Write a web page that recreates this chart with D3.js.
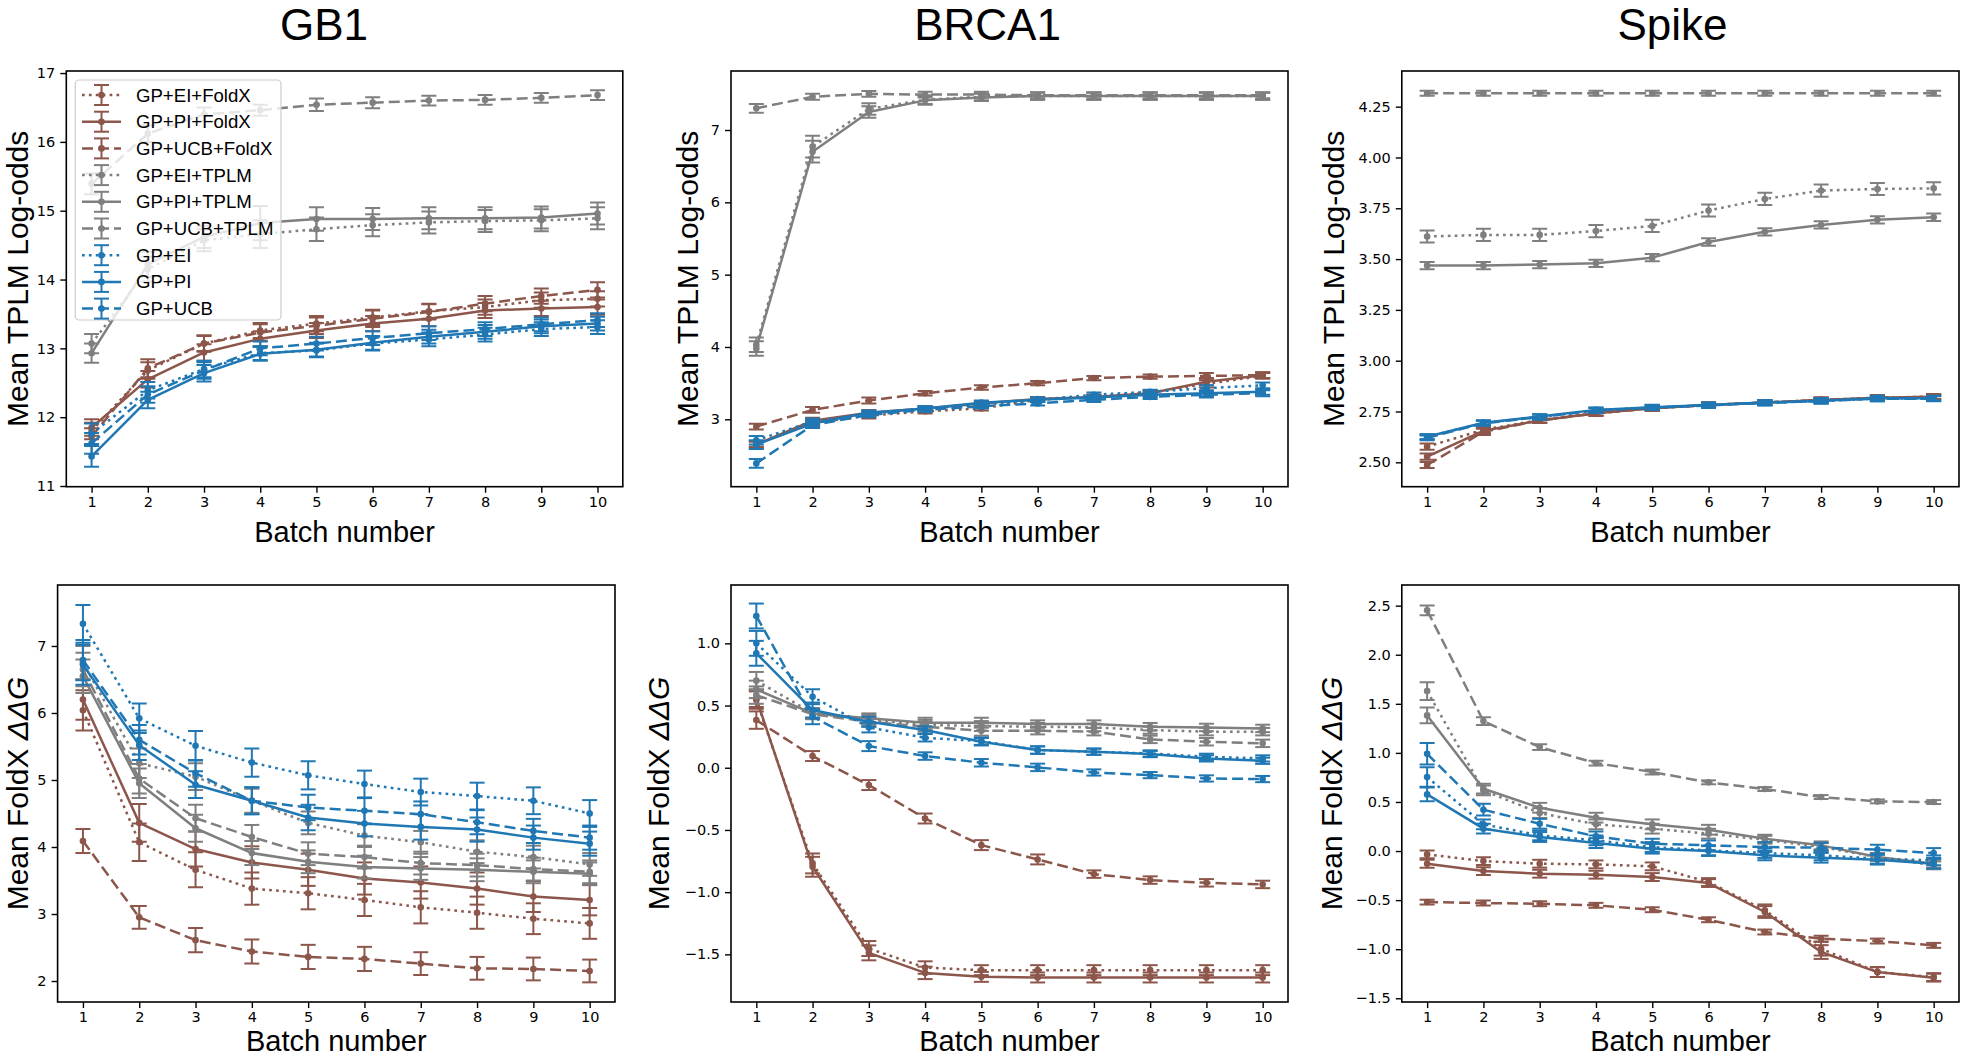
<!DOCTYPE html>
<html><head><meta charset="utf-8">
<script src="https://cdn.jsdelivr.net/npm/d3@7"></script>
<style>body{margin:0;background:#fff}svg{display:block}</style>
</head><body><svg id="c" width="1961" height="1057"></svg>
<script>
// ---------------- DATA ----------------
const batches = [1, 2, 3, 4, 5, 6, 7, 8, 9, 10];
const seriesNames = ["GP+EI+FoldX", "GP+PI+FoldX", "GP+UCB+FoldX", "GP+EI+TPLM", "GP+PI+TPLM", "GP+UCB+TPLM", "GP+EI", "GP+PI", "GP+UCB"];
const seriesColors = ["#8c564b", "#8c564b", "#8c564b", "#7f7f7f", "#7f7f7f", "#7f7f7f", "#1f77b4", "#1f77b4", "#1f77b4"];
const seriesStyles = ["dotted", "solid", "dashed", "dotted", "solid", "dashed", "dotted", "solid", "dashed"];
const proteins = ["GB1", "BRCA1", "Spike"];
const yLabelTop = "Mean TPLM Log-odds";
const yLabelBottom = "Mean FoldX ";
const yLabelBottomMath = "ΔΔG";
const xLabel = "Batch number";

const ticksGb1Tplm = [11, 12, 13, 14, 15, 16, 17];
const ticksBrca1Tplm = [3, 4, 5, 6, 7];
const ticksSpikeTplm = [2.5, 2.75, 3.0, 3.25, 3.5, 3.75, 4.0, 4.25];
const ticksGb1Foldx = [2, 3, 4, 5, 6, 7];
const ticksBrca1Foldx = [-1.5, -1.0, -0.5, 0.0, 0.5, 1.0];
const ticksSpikeFoldx = [-1.5, -1.0, -0.5, 0.0, 0.5, 1.0, 1.5, 2.0, 2.5];

// GB1, TPLM log-odds (rows follow seriesNames)
const gb1TplmMean = [
  [11.80, 12.68, 13.07, 13.26, 13.36, 13.45, 13.54, 13.60, 13.70, 13.72],
  [11.85, 12.55, 12.94, 13.14, 13.26, 13.36, 13.43, 13.55, 13.58, 13.60],
  [11.72, 12.71, 13.07, 13.23, 13.33, 13.43, 13.53, 13.65, 13.76, 13.85],
  [13.07, 14.15, 14.57, 14.66, 14.73, 14.79, 14.83, 14.85, 14.86, 14.89],
  [12.93, 14.22, 14.62, 14.82, 14.88, 14.88, 14.89, 14.89, 14.90, 14.96],
  [15.39, 16.12, 16.40, 16.46, 16.54, 16.57, 16.60, 16.61, 16.64, 16.68],
  [11.76, 12.39, 12.70, 12.93, 12.97, 13.07, 13.13, 13.20, 13.28, 13.31],
  [11.43, 12.25, 12.64, 12.92, 12.98, 13.08, 13.17, 13.24, 13.32, 13.36],
  [11.62, 12.33, 12.68, 13.00, 13.07, 13.15, 13.22, 13.28, 13.35, 13.41]
];
const gb1TplmErr = [
  [0.12, 0.12, 0.11, 0.11, 0.11, 0.11, 0.11, 0.11, 0.11, 0.11],
  [0.12, 0.12, 0.12, 0.11, 0.11, 0.11, 0.11, 0.11, 0.11, 0.11],
  [0.12, 0.13, 0.12, 0.12, 0.12, 0.12, 0.11, 0.11, 0.11, 0.11],
  [0.14, 0.18, 0.16, 0.20, 0.17, 0.16, 0.16, 0.16, 0.16, 0.16],
  [0.14, 0.18, 0.16, 0.25, 0.17, 0.16, 0.16, 0.16, 0.16, 0.16],
  [0.15, 0.12, 0.10, 0.08, 0.09, 0.08, 0.07, 0.07, 0.07, 0.07],
  [0.15, 0.12, 0.12, 0.10, 0.10, 0.10, 0.10, 0.10, 0.10, 0.10],
  [0.15, 0.12, 0.12, 0.10, 0.10, 0.10, 0.10, 0.10, 0.10, 0.10],
  [0.15, 0.12, 0.12, 0.10, 0.10, 0.10, 0.10, 0.10, 0.10, 0.10]
];

// BRCA1, TPLM log-odds
const brca1TplmMean = [
  [2.66, 2.95, 3.05, 3.11, 3.15, 3.27, 3.31, 3.37, 3.49, 3.60],
  [2.65, 2.98, 3.09, 3.15, 3.22, 3.28, 3.31, 3.36, 3.52, 3.61],
  [2.90, 3.13, 3.26, 3.36, 3.44, 3.50, 3.57, 3.59, 3.60, 3.61],
  [4.03, 6.77, 7.29, 7.42, 7.46, 7.47, 7.47, 7.47, 7.47, 7.47],
  [3.98, 6.70, 7.25, 7.41, 7.45, 7.47, 7.47, 7.47, 7.47, 7.47],
  [7.30, 7.46, 7.50, 7.49, 7.49, 7.48, 7.48, 7.48, 7.48, 7.48],
  [2.71, 2.97, 3.08, 3.15, 3.20, 3.27, 3.34, 3.38, 3.43, 3.47],
  [2.65, 2.94, 3.09, 3.15, 3.23, 3.27, 3.30, 3.34, 3.36, 3.38],
  [2.39, 2.92, 3.06, 3.13, 3.18, 3.22, 3.27, 3.31, 3.34, 3.36]
];
const brca1TplmErr = [
  [0.04, 0.04, 0.04, 0.03, 0.03, 0.03, 0.03, 0.03, 0.05, 0.04],
  [0.04, 0.04, 0.04, 0.03, 0.03, 0.03, 0.03, 0.03, 0.05, 0.04],
  [0.04, 0.04, 0.04, 0.03, 0.03, 0.03, 0.03, 0.03, 0.04, 0.04],
  [0.10, 0.15, 0.08, 0.06, 0.05, 0.05, 0.05, 0.05, 0.05, 0.05],
  [0.10, 0.15, 0.08, 0.06, 0.05, 0.05, 0.05, 0.05, 0.05, 0.05],
  [0.06, 0.04, 0.04, 0.04, 0.04, 0.04, 0.04, 0.04, 0.04, 0.04],
  [0.06, 0.04, 0.03, 0.03, 0.03, 0.03, 0.03, 0.03, 0.04, 0.04],
  [0.06, 0.04, 0.03, 0.03, 0.03, 0.03, 0.03, 0.03, 0.04, 0.04],
  [0.06, 0.04, 0.03, 0.03, 0.03, 0.03, 0.03, 0.03, 0.04, 0.04]
];

// Spike, TPLM log-odds
const spikeTplmMean = [
  [2.577, 2.660, 2.708, 2.741, 2.766, 2.782, 2.794, 2.807, 2.818, 2.823],
  [2.528, 2.655, 2.706, 2.741, 2.766, 2.782, 2.794, 2.807, 2.818, 2.823],
  [2.487, 2.650, 2.706, 2.741, 2.766, 2.782, 2.794, 2.806, 2.816, 2.822],
  [3.611, 3.619, 3.619, 3.638, 3.663, 3.739, 3.796, 3.837, 3.845, 3.848],
  [3.468, 3.468, 3.473, 3.479, 3.507, 3.584, 3.634, 3.668, 3.693, 3.706],
  [4.316, 4.316, 4.316, 4.316, 4.316, 4.316, 4.316, 4.316, 4.316, 4.316],
  [2.626, 2.693, 2.723, 2.756, 2.769, 2.781, 2.793, 2.802, 2.813, 2.814],
  [2.626, 2.695, 2.725, 2.758, 2.771, 2.782, 2.794, 2.803, 2.815, 2.815],
  [2.620, 2.692, 2.723, 2.755, 2.769, 2.780, 2.792, 2.802, 2.813, 2.813]
];
const spikeTplmErr = [
  [0.015, 0.015, 0.012, 0.012, 0.012, 0.012, 0.012, 0.012, 0.012, 0.012],
  [0.015, 0.015, 0.012, 0.012, 0.012, 0.012, 0.012, 0.012, 0.012, 0.012],
  [0.015, 0.015, 0.012, 0.012, 0.012, 0.012, 0.012, 0.012, 0.012, 0.012],
  [0.030, 0.030, 0.030, 0.030, 0.030, 0.030, 0.030, 0.030, 0.030, 0.030],
  [0.018, 0.018, 0.018, 0.018, 0.018, 0.018, 0.018, 0.018, 0.018, 0.018],
  [0.012, 0.012, 0.012, 0.012, 0.012, 0.012, 0.012, 0.012, 0.012, 0.012],
  [0.012, 0.012, 0.012, 0.012, 0.012, 0.012, 0.012, 0.012, 0.012, 0.012],
  [0.012, 0.012, 0.012, 0.012, 0.012, 0.012, 0.012, 0.012, 0.012, 0.012],
  [0.012, 0.012, 0.012, 0.012, 0.012, 0.012, 0.012, 0.012, 0.012, 0.012]
];

// GB1, FoldX ddG
const gb1FoldxMean = [
  [6.04, 4.07, 3.66, 3.38, 3.31, 3.21, 3.10, 3.02, 2.93, 2.86],
  [6.20, 4.36, 3.97, 3.77, 3.66, 3.53, 3.47, 3.38, 3.26, 3.21],
  [4.09, 2.95, 2.61, 2.44, 2.36, 2.33, 2.26, 2.19, 2.18, 2.15],
  [6.75, 5.25, 5.05, 4.69, 4.36, 4.17, 4.07, 3.93, 3.85, 3.74],
  [6.55, 4.95, 4.28, 3.91, 3.78, 3.70, 3.68, 3.66, 3.63, 3.60],
  [6.65, 5.02, 4.43, 4.15, 3.90, 3.85, 3.76, 3.73, 3.67, 3.63],
  [7.33, 5.92, 5.51, 5.26, 5.07, 4.94, 4.82, 4.76, 4.69, 4.50],
  [6.72, 5.52, 4.93, 4.69, 4.44, 4.35, 4.30, 4.26, 4.14, 4.05],
  [6.79, 5.60, 5.10, 4.69, 4.59, 4.54, 4.49, 4.37, 4.24, 4.14]
];
const gb1FoldxErr = [
  [0.30, 0.28, 0.26, 0.24, 0.24, 0.24, 0.24, 0.24, 0.23, 0.23],
  [0.30, 0.28, 0.26, 0.24, 0.24, 0.24, 0.24, 0.24, 0.23, 0.23],
  [0.18, 0.17, 0.18, 0.18, 0.18, 0.18, 0.17, 0.17, 0.17, 0.17],
  [0.25, 0.22, 0.20, 0.18, 0.17, 0.17, 0.17, 0.17, 0.17, 0.17],
  [0.25, 0.22, 0.20, 0.18, 0.17, 0.17, 0.17, 0.17, 0.17, 0.17],
  [0.25, 0.22, 0.20, 0.18, 0.17, 0.17, 0.17, 0.17, 0.17, 0.17],
  [0.28, 0.22, 0.22, 0.21, 0.21, 0.20, 0.20, 0.20, 0.20, 0.20],
  [0.30, 0.22, 0.20, 0.20, 0.19, 0.19, 0.19, 0.18, 0.18, 0.18],
  [0.30, 0.22, 0.20, 0.20, 0.19, 0.19, 0.19, 0.18, 0.18, 0.18]
];

// BRCA1, FoldX ddG
const brca1FoldxMean = [
  [0.544, -0.769, -1.453, -1.606, -1.627, -1.627, -1.627, -1.627, -1.627, -1.627],
  [0.558, -0.796, -1.488, -1.649, -1.681, -1.686, -1.686, -1.686, -1.686, -1.686],
  [0.383, 0.094, -0.139, -0.408, -0.622, -0.737, -0.855, -0.903, -0.925, -0.938],
  [0.700, 0.440, 0.385, 0.345, 0.335, 0.330, 0.324, 0.303, 0.290, 0.290],
  [0.630, 0.437, 0.397, 0.362, 0.362, 0.351, 0.351, 0.330, 0.324, 0.316],
  [0.584, 0.430, 0.370, 0.330, 0.298, 0.298, 0.290, 0.228, 0.209, 0.196],
  [1.000, 0.571, 0.324, 0.241, 0.214, 0.142, 0.129, 0.115, 0.088, 0.075],
  [0.920, 0.464, 0.370, 0.303, 0.209, 0.142, 0.129, 0.110, 0.075, 0.056],
  [1.220, 0.410, 0.174, 0.094, 0.040, 0.003, -0.038, -0.059, -0.086, -0.091]
];
const brca1FoldxErr = [
  [0.07, 0.08, 0.06, 0.05, 0.04, 0.04, 0.04, 0.04, 0.04, 0.04],
  [0.07, 0.08, 0.06, 0.05, 0.04, 0.04, 0.04, 0.04, 0.04, 0.04],
  [0.07, 0.04, 0.04, 0.04, 0.04, 0.04, 0.03, 0.03, 0.03, 0.03],
  [0.07, 0.04, 0.04, 0.04, 0.04, 0.03, 0.03, 0.03, 0.03, 0.03],
  [0.07, 0.04, 0.04, 0.04, 0.04, 0.03, 0.03, 0.03, 0.03, 0.03],
  [0.07, 0.04, 0.04, 0.04, 0.04, 0.03, 0.03, 0.03, 0.03, 0.03],
  [0.10, 0.06, 0.04, 0.03, 0.03, 0.03, 0.025, 0.025, 0.025, 0.025],
  [0.10, 0.06, 0.04, 0.03, 0.03, 0.03, 0.025, 0.025, 0.025, 0.025],
  [0.10, 0.06, 0.04, 0.03, 0.03, 0.03, 0.025, 0.025, 0.025, 0.025]
];

// Spike, FoldX ddG
const spikeFoldxMean = [
  [-0.034, -0.102, -0.129, -0.136, -0.156, -0.316, -0.604, -0.995, -1.233, -1.284],
  [-0.129, -0.204, -0.231, -0.241, -0.265, -0.326, -0.621, -1.029, -1.233, -1.290],
  [-0.520, -0.530, -0.537, -0.553, -0.598, -0.700, -0.825, -0.893, -0.917, -0.961],
  [1.630, 0.618, 0.387, 0.272, 0.228, 0.177, 0.115, 0.041, -0.061, -0.146],
  [1.382, 0.635, 0.441, 0.340, 0.272, 0.217, 0.126, 0.058, -0.061, -0.129],
  [2.452, 1.324, 1.059, 0.896, 0.805, 0.700, 0.632, 0.550, 0.506, 0.499],
  [0.754, 0.272, 0.160, 0.109, 0.041, 0.007, -0.020, -0.044, -0.078, -0.095],
  [0.577, 0.228, 0.143, 0.081, 0.024, 0.000, -0.044, -0.068, -0.088, -0.129],
  [0.991, 0.421, 0.278, 0.149, 0.075, 0.058, 0.041, 0.034, 0.014, -0.020]
];
const spikeFoldxErr = [
  [0.04, 0.04, 0.04, 0.04, 0.04, 0.04, 0.06, 0.07, 0.05, 0.04],
  [0.04, 0.04, 0.04, 0.04, 0.04, 0.04, 0.06, 0.07, 0.05, 0.04],
  [0.025, 0.025, 0.025, 0.025, 0.025, 0.025, 0.025, 0.03, 0.025, 0.025],
  [0.09, 0.05, 0.05, 0.05, 0.05, 0.05, 0.04, 0.04, 0.04, 0.04],
  [0.08, 0.05, 0.05, 0.05, 0.05, 0.05, 0.04, 0.04, 0.04, 0.04],
  [0.05, 0.04, 0.03, 0.025, 0.025, 0.02, 0.02, 0.02, 0.02, 0.02],
  [0.10, 0.05, 0.05, 0.05, 0.05, 0.05, 0.05, 0.05, 0.05, 0.05],
  [0.07, 0.05, 0.05, 0.05, 0.05, 0.05, 0.05, 0.05, 0.05, 0.05],
  [0.11, 0.06, 0.05, 0.05, 0.05, 0.05, 0.05, 0.05, 0.05, 0.05]
];

// ---------------- DRAWING ----------------
const svg = d3.select("#c");
const LABEL_FONT = "'Liberation Sans', Arial, Helvetica, sans-serif";
const TICK_FONT = "'DejaVu Sans', sans-serif";
const dashFor = s => s === "dashed" ? "11,5" : (s === "dotted" ? "2.7,4.2" : null);

const panels = [
  {x0: 66.3, x1: 622.8, y0: 71, y1: 486.7, dom: [10.99, 17.03], ticks: ticksGb1Tplm, fmt: d3.format("d"), mean: gb1TplmMean, err: gb1TplmErr, ylab: "top", ylabX: 17, title: proteins[0], titleX: 324, legend: true},
  {x0: 731, x1: 1288, y0: 71, y1: 486.7, dom: [2.068, 7.816], ticks: ticksBrca1Tplm, fmt: d3.format("d"), mean: brca1TplmMean, err: brca1TplmErr, ylab: "top", ylabX: 687, title: proteins[1], titleX: 987.5},
  {x0: 1401.8, x1: 1959, y0: 71, y1: 486.7, dom: [2.380, 4.4255], ticks: ticksSpikeTplm, fmt: d3.format(".2f"), mean: spikeTplmMean, err: spikeTplmErr, ylab: "top", ylabX: 1333, title: proteins[2], titleX: 1672.5},
  {x0: 57.6, x1: 615, y0: 585, y1: 1002, dom: [1.687, 7.91], ticks: ticksGb1Foldx, fmt: d3.format("d"), mean: gb1FoldxMean, err: gb1FoldxErr, ylab: "bottom", ylabX: 17},
  {x0: 731, x1: 1288, y0: 585, y1: 1002, dom: [-1.883, 1.469], ticks: ticksBrca1Foldx, fmt: d3.format(".1f"), mean: brca1FoldxMean, err: brca1FoldxErr, ylab: "bottom", ylabX: 658},
  {x0: 1401.8, x1: 1959, y0: 585, y1: 1002, dom: [-1.538, 2.7105], ticks: ticksSpikeFoldx, fmt: d3.format(".1f"), mean: spikeFoldxMean, err: spikeFoldxErr, ylab: "bottom", ylabX: 1331}
];

const defs = svg.append("defs");

panels.forEach((p, pi) => {
  const x = d3.scaleLinear().domain([0.55, 10.45]).range([p.x0, p.x1]);
  const y = d3.scaleLinear().domain(p.dom).range([p.y1, p.y0]);
  const g = svg.append("g");
  const clipId = "clip" + pi;
  defs.append("clipPath").attr("id", clipId).append("rect")
    .attr("x", p.x0).attr("y", p.y0).attr("width", p.x1 - p.x0).attr("height", p.y1 - p.y0);

  const plot = g.append("g").attr("clip-path", `url(#${clipId})`);
  const line = d3.line().x((d, i) => x(batches[i])).y(d => y(d));

  seriesNames.forEach((name, si) => {
    const col = seriesColors[si];
    const m = p.mean[si], e = p.err[si];
    const sg = plot.append("g");
    sg.append("path").attr("d", line(m)).attr("fill", "none").attr("stroke", col)
      .attr("stroke-width", 2.5).attr("stroke-dasharray", dashFor(seriesStyles[si]))
      .attr("stroke-linejoin", "round");
    batches.forEach((b, i) => {
      const cx = x(b), yt = y(m[i] + e[i]), yb = y(m[i] - e[i]);
      sg.append("line").attr("x1", cx).attr("x2", cx).attr("y1", yt).attr("y2", yb)
        .attr("stroke", col).attr("stroke-width", 2);
      [yt, yb].forEach(yy => sg.append("line").attr("x1", cx - 7.5).attr("x2", cx + 7.5)
        .attr("y1", yy).attr("y2", yy).attr("stroke", col).attr("stroke-width", 2));
      sg.append("circle").attr("cx", cx).attr("cy", y(m[i])).attr("r", 3.3).attr("fill", col);
    });
  });

  // frame
  g.append("rect").attr("x", p.x0).attr("y", p.y0).attr("width", p.x1 - p.x0).attr("height", p.y1 - p.y0)
    .attr("fill", "none").attr("stroke", "#000").attr("stroke-width", 1.6);

  // x axis
  const xa = g.append("g").attr("transform", `translate(0,${p.y1})`)
    .call(d3.axisBottom(x).tickValues(batches).tickFormat(d3.format("d")).tickSize(6).tickPadding(4));
  xa.select(".domain").remove();
  xa.selectAll(".tick line").attr("stroke-width", 1.4);
  xa.selectAll(".tick text").attr("font-family", TICK_FONT).attr("font-size", 14.5).attr("fill", "#000");

  // y axis
  const ya = g.append("g").attr("transform", `translate(${p.x0},0)`)
    .call(d3.axisLeft(y).tickValues(p.ticks).tickFormat(p.fmt).tickSize(6).tickPadding(5));
  ya.select(".domain").remove();
  ya.selectAll(".tick line").attr("stroke-width", 1.4);
  ya.selectAll(".tick text").attr("font-family", TICK_FONT).attr("font-size", 14.5).attr("fill", "#000");

  // x label
  g.append("text").attr("x", (p.x0 + p.x1) / 2).attr("y", p.y1 + (p.y0 < 300 ? 55 : 49))
    .attr("text-anchor", "middle").attr("font-family", LABEL_FONT).attr("font-size", 29).text(xLabel);

  // y label
  const yl = g.append("text")
    .attr("transform", `translate(${p.ylabX},${(p.y0 + p.y1) / 2}) rotate(-90)`)
    .attr("text-anchor", "middle").attr("dy", "0.36em")
    .attr("font-family", LABEL_FONT).attr("font-size", 30);
  if (p.ylab === "top") {
    yl.text(yLabelTop);
  } else {
    yl.append("tspan").text(yLabelBottom);
    yl.append("tspan").attr("font-style", "italic").text(yLabelBottomMath);
  }

  // title
  if (p.title) {
    svg.append("text").attr("x", p.titleX).attr("y", 40).attr("text-anchor", "middle")
      .attr("font-family", LABEL_FONT).attr("font-size", 44).text(p.title);
  }

  // legend
  if (p.legend) {
    const lg = g.append("g");
    lg.append("rect").attr("x", 75.3).attr("y", 80).attr("width", 205.7).attr("height", 240)
      .attr("rx", 4).attr("fill", "#fff").attr("fill-opacity", 0.8)
      .attr("stroke", "#cccccc").attr("stroke-width", 1.2);
    seriesNames.forEach((name, si) => {
      const cy = 95 + si * 26.7;
      const col = seriesColors[si];
      lg.append("line").attr("x1", 82).attr("x2", 121).attr("y1", cy).attr("y2", cy)
        .attr("stroke", col).attr("stroke-width", 2.5).attr("stroke-dasharray", dashFor(seriesStyles[si]));
      lg.append("line").attr("x1", 101.5).attr("x2", 101.5).attr("y1", cy - 10).attr("y2", cy + 10)
        .attr("stroke", col).attr("stroke-width", 2);
      [cy - 10, cy + 10].forEach(yy => lg.append("line").attr("x1", 94).attr("x2", 109)
        .attr("y1", yy).attr("y2", yy).attr("stroke", col).attr("stroke-width", 2));
      lg.append("circle").attr("cx", 101.5).attr("cy", cy).attr("r", 3.3).attr("fill", col);
      lg.append("text").attr("x", 136).attr("y", cy).attr("dy", "0.35em")
        .attr("font-family", LABEL_FONT).attr("font-size", 18.6).text(name);
    });
  }
});
</script>
</body></html>
